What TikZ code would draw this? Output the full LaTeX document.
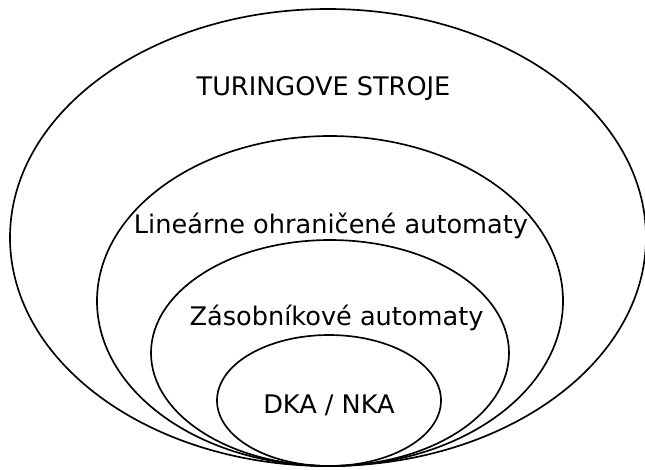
\documentclass[tikz,border=0pt]{standalone}
\usepackage{fontspec}
\setmainfont{DejaVu Sans}
\tikzset{
  hier/.style={line width=1.25pt},
  lbl/.style={anchor=base, inner sep=0pt, font=\fontsize{19.2}{23}\selectfont}
}
\begin{document}
\begin{tikzpicture}[x=0.75pt,y=0.75pt,yscale=-1,xscale=1]
\useasboundingbox (0,0) rectangle (645,469);

% Turingove stroje
\draw [hier] (328,237.5) ellipse [x radius=318, y radius=228.5];
% LBA
\draw [hier] (330,301) ellipse [x radius=233, y radius=165];
% zasobnikove
\draw [hier] (330,353) ellipse [x radius=179, y radius=113];
% DKA / NKA
\draw [hier] (329,400.5) ellipse [x radius=112, y radius=65.5];

% Text Node
\node [lbl] (tm) at (323.5,95) {TURINGOVE STROJE};
% Text Node
\node [lbl] (lba) at (331,233) {Lineárne ohraničené automaty};
% Text Node
\node [lbl] (pda) at (336.5,325) {Zásobníkové automaty};
% Text Node
\node [lbl] (fa) at (329,413) {DKA / NKA};

\end{tikzpicture}
\end{document}
